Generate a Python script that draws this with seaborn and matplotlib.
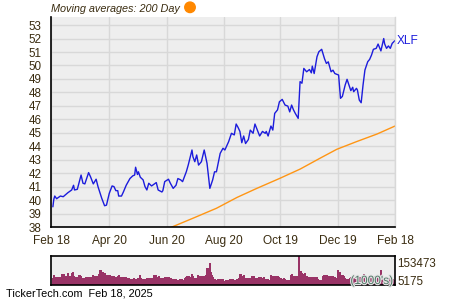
import matplotlib
matplotlib.use("Agg")
import matplotlib.pyplot as plt
import matplotlib.dates as mdates
import matplotlib.patheffects as pe
from matplotlib.patches import Ellipse
import numpy as np
import pandas as pd
import seaborn as sns

# ---- data ----
price_dates = [
    "2024-02-20", "2024-02-21", "2024-02-22", "2024-02-24", "2024-02-28", "2024-03-02",
    "2024-03-07", "2024-03-11", "2024-03-13", "2024-03-14", "2024-03-17", "2024-03-21",
    "2024-03-23", "2024-03-25", "2024-03-29", "2024-03-31", "2024-04-03", "2024-04-06",
    "2024-04-08", "2024-04-12", "2024-04-15", "2024-04-17", "2024-04-20", "2024-04-23",
    "2024-04-25", "2024-04-27", "2024-04-29", "2024-04-30", "2024-05-03", "2024-05-05",
    "2024-05-08", "2024-05-12", "2024-05-15", "2024-05-17", "2024-05-18", "2024-05-20",
    "2024-05-21", "2024-05-23", "2024-05-26", "2024-05-28", "2024-05-30", "2024-06-01",
    "2024-06-04", "2024-06-07", "2024-06-09", "2024-06-11", "2024-06-15", "2024-06-16",
    "2024-06-18", "2024-06-22", "2024-06-24", "2024-06-27", "2024-06-30", "2024-07-02",
    "2024-07-05", "2024-07-07", "2024-07-11", "2024-07-13", "2024-07-17", "2024-07-18",
    "2024-07-20", "2024-07-22", "2024-07-24", "2024-07-27", "2024-07-30", "2024-08-02",
    "2024-08-05", "2024-08-08", "2024-08-10", "2024-08-12", "2024-08-16", "2024-08-19",
    "2024-08-21", "2024-08-25", "2024-08-28", "2024-08-31", "2024-09-02", "2024-09-04",
    "2024-09-06", "2024-09-08", "2024-09-10", "2024-09-12", "2024-09-15", "2024-09-17",
    "2024-09-20", "2024-09-22", "2024-09-24", "2024-09-27", "2024-09-30", "2024-10-03",
    "2024-10-04", "2024-10-06", "2024-10-09", "2024-10-11", "2024-10-13", "2024-10-16",
    "2024-10-18", "2024-10-21", "2024-10-24", "2024-10-27", "2024-10-29", "2024-10-31",
    "2024-11-02", "2024-11-04", "2024-11-07", "2024-11-09", "2024-11-11", "2024-11-13",
    "2024-11-16", "2024-11-19", "2024-11-21", "2024-11-22", "2024-11-24", "2024-11-27",
    "2024-11-29", "2024-12-02", "2024-12-05", "2024-12-07", "2024-12-09", "2024-12-12",
    "2024-12-14", "2024-12-16", "2024-12-20", "2024-12-22", "2024-12-24", "2024-12-27",
    "2024-12-29", "2024-12-31", "2025-01-02", "2025-01-04", "2025-01-05", "2025-01-08",
    "2025-01-09", "2025-01-11", "2025-01-13", "2025-01-15", "2025-01-17", "2025-01-20",
    "2025-01-22", "2025-01-24", "2025-01-26", "2025-01-29", "2025-01-31", "2025-02-03",
    "2025-02-06", "2025-02-07", "2025-02-09", "2025-02-11", "2025-02-13", "2025-02-15",
    "2025-02-18",
]
price_values = [
    39.5, 40.06, 40.3, 40.1, 40.3, 40.25,
    40.55, 40.75, 41.1, 40.75, 40.8, 41.86,
    41.25, 41.2, 42.04, 41.74, 41.2, 41.55,
    41.0, 40.13, 39.58, 39.62, 40.5, 41.05,
    41.0, 40.7, 40.7, 40.3, 40.3, 40.6,
    41.1, 41.6, 41.8, 41.86, 42.44, 41.9,
    42.1, 41.7, 41.5, 41.0, 40.75, 41.25,
    41.05, 41.2, 41.3, 40.75, 40.6, 40.7,
    41.37, 41.55, 41.25, 40.87, 41.1, 41.6,
    41.5, 41.37, 42.11, 42.6, 43.72, 43.22,
    42.85, 43.35, 42.6, 42.85, 43.72, 42.73,
    40.87, 41.5, 42.1, 42.1, 43.47, 43.85,
    43.72, 44.34, 44.96, 44.84, 45.65, 45.4,
    45.1, 44.26, 44.76, 44.2, 44.5, 45.2,
    44.96, 45.65, 45.3, 44.76, 45.1, 44.96,
    45.1, 44.76, 45.5, 45.2, 46.44, 46.7,
    47.3, 47.48, 47.06, 46.98, 46.55, 47.06,
    46.7, 46.43, 46.07, 48.8, 48.68, 49.78,
    49.53, 49.7, 49.45, 49.95, 49.4, 50.65,
    51.02, 51.2, 50.5, 50.15, 50.27, 49.53,
    49.65, 49.4, 49.29, 47.56, 47.7, 48.55,
    48.97, 48.55, 48.13, 48.38, 48.05, 48.3,
    48.18, 47.43, 47.23, 48.55, 49.66, 50.28,
    50.45, 50.77, 51.2, 51.27, 51.59, 51.08,
    52.0, 51.6, 51.27, 51.45, 51.27, 51.64,
    51.85,
]

ma_dates = ["2024-06-17", "2024-06-25", "2024-07-18", "2024-08-12", "2024-09-03",
            "2024-09-24", "2024-10-18", "2024-11-09", "2024-11-30", "2024-12-18",
            "2025-01-08", "2025-01-30", "2025-02-18"]
ma_values = [37.75, 37.98, 38.65, 39.39, 40.2, 40.87, 41.6, 42.3, 43.1, 43.77,
             44.34, 44.91, 45.5]

# daily volume, millions of shares, one row per trading week starting Tue 2024-02-20
vol_weeks_m = [
    [36, 54, 40, 42, 40], [42, 40, 55, 58, 45], [45, 44, 62, 48, 66], [68, 50, 42, 40, 52],
    [55, 50, 38, 36, 35], [40, 42, 38, 44, 41], [55, 45, 44, 46, 48], [60, 82, 78, 70, 62],
    [52, 55, 50, 54, 48], [45, 42, 46, 44, 50], [54, 42, 40, 44, 41], [40, 36, 34, 35, 33],
    [33, 32, 35, 34, 36], [37, 55, 36, 33, 34], [32, 34, 33, 36, 35], [36, 37, 35, 52, 40],
    [50, 38, 36, 37, 35], [40, 42, 38, 41, 39], [31, 30, 33, 32, 29], [27, 28, 26, 30, 29],
    [38, 42, 40, 45, 43], [56, 58, 50, 38, 36], [52, 47, 44, 45, 48], [45, 55, 60, 90, 114],
    [70, 55, 40, 30, 28], [30, 32, 28, 31, 30], [20, 18, 22, 28, 30], [30, 28, 32, 29, 31],
    [30, 35, 55, 58, 50], [52, 38, 34, 36, 35], [38, 48, 50, 46, 36], [35, 36, 40, 42, 38],
    [40, 30, 28, 30, 29], [52, 55, 50, 48, 45], [44, 46, 42, 36, 34], [35, 34, 28, 27, 26],
    [28, 52, 56, 50, 45], [44, 50, 153.473, 72, 66], [60, 58, 62, 45, 44], [44, 42, 40, 41, 43],
    [40, 38, 30, 28, 29], [50, 55, 52, 54, 45], [44, 46, 43, 45, 40], [36, 35, 78, 70, 54],
    [52, 50, 36, 30, 34], [30, 38, 40, 36, 38], [42, 40, 26, 44, 48], [50, 56, 52, 45, 40],
    [42, 40, 38, 36, 48], [40, 38, 44, 42, 78], [45, 40, 38, 36, 38], [36, 34, 32, 30, 28],
    [20],
]
vol_max_label = "153473"
vol_min_label = "5175"

tick_dates = ["2024-02-18", "2024-04-20", "2024-06-20", "2024-08-20", "2024-10-19",
              "2024-12-19", "2025-02-18"]
tick_labels = ["Feb 18", "Apr 20", "Jun 20", "Aug 20", "Oct 19", "Dec 19", "Feb 18"]
minor_tick_dates = ["2024-03-18", "2024-05-19", "2024-07-19", "2024-09-18",
                    "2024-11-17", "2025-01-19"]
y_ticks = list(range(38, 54))

title_text = "Moving averages: 200 Day"
symbol = "XLF"
footer_text = "TickerTech.com  Feb 18, 2025"

# ---- styling ----
sns.set_theme(style="white")
plt.rcParams["font.family"] = ["Liberation Sans", "DejaVu Sans"]

TXT = "#3a2c10"
BG = "#eeeeee"
GRID = "#d8d8d8"
BLUE = "#1c1cdc"
ORANGE = "#ff9514"
VOL = "#993366"

W, H = 450, 300
fig = plt.figure(figsize=(4.5, 3), dpi=100)
fig.patch.set_facecolor("white")

ax = fig.add_axes([51 / W, 1 - 227 / H, 344 / W, 210 / H])
ax.set_facecolor(BG)

df = pd.DataFrame({"date": pd.to_datetime(price_dates), "close": price_values})
ma = pd.DataFrame({"date": pd.to_datetime(ma_dates), "ma": ma_values})
sns.lineplot(data=ma, x="date", y="ma", ax=ax, color=ORANGE, linewidth=1.0)
sns.lineplot(data=df, x="date", y="close", ax=ax, color=BLUE, linewidth=1.0)

x0, x1 = pd.Timestamp(tick_dates[0]), pd.Timestamp(tick_dates[-1])
ax.set_xlim(x0, x1)
ax.set_ylim(38, 53.6)
ax.set_xlabel("")
ax.set_ylabel("")

ax.set_yticks(y_ticks)
ax.set_yticklabels([str(v) for v in y_ticks])
ax.set_yticks(np.arange(38.5, 53.6, 1.0), minor=True)
ax.set_xticks(pd.to_datetime(tick_dates))
ax.set_xticklabels(tick_labels)
ax.set_xticks(pd.to_datetime(minor_tick_dates), minor=True)

ax.grid(True, which="major", color=GRID, linewidth=1.0)
ax.set_axisbelow(True)
ax.tick_params(axis="both", which="both", direction="in", color="black",
               labelcolor=TXT, width=1.0)
ax.tick_params(axis="both", which="major", length=4)
ax.tick_params(axis="both", which="minor", length=2.5)
ax.tick_params(axis="y", which="major", pad=7, labelsize=8.4)
ax.tick_params(axis="x", which="major", pad=6, labelsize=8.6)

ax.spines["top"].set_visible(False)
ax.spines["right"].set_color(GRID)
ax.spines["right"].set_linewidth(1.0)
for s in ["left", "bottom"]:
    ax.spines[s].set_color("black")
    ax.spines[s].set_linewidth(1.2)

# ---- volume panel ----
vax = fig.add_axes([51 / W, 1 - 285 / H, 344 / W, 29 / H])
vax.set_facecolor(BG)
vol_thousands = np.array([v for wk in vol_weeks_m for v in wk]) * 1000.0
vdates = pd.bdate_range("2024-02-20", periods=len(vol_thousands))
vnum = mdates.date2num(vdates)
widths = np.diff(np.append(vnum, vnum[-1] + 1.0))
vax.bar(vnum - widths / 2.0, vol_thousands, width=widths, align="edge",
        color=VOL, edgecolor=VOL, linewidth=0.4, antialiased=False)
vax.set_xlim(mdates.date2num(x0), mdates.date2num(x1))
vax.set_ylim(0, float(vol_max_label))
vax.set_xticks([])
vax.set_yticks([])
for s in vax.spines.values():
    s.set_visible(True)
    s.set_color("black")
    s.set_linewidth(1.2)

# ---- texts ----
fig.text(50.7 / W, 1 - 9.5 / H, title_text, style="italic", fontsize=7.8,
         ha="left", va="center", color=TXT)
fig.add_artist(Ellipse((190 / W, 1 - 7.3 / H), 10.5 / W, 10.5 / H,
                       transform=fig.transFigure, color="#ff8800"))
fig.text(397 / W, 1 - 40.7 / H, symbol, fontsize=8.6, ha="left", va="center", color=BLUE)
fig.text(397 / W, 1 - 264 / H, vol_max_label, fontsize=8.4, ha="left", va="center", color=TXT)
fig.text(397 / W, 1 - 282 / H, vol_min_label, fontsize=8.4, ha="left", va="center", color=TXT)
fig.text(393 / W, 1 - 281 / H, "(1000's)", fontsize=8.6, ha="right", va="center",
         color="#4f7565",
         path_effects=[pe.withStroke(linewidth=1.6, foreground="#e4e4e4")])
fig.text(6 / W, 1 - 294 / H, footer_text, fontsize=7.8, ha="left", va="center", color="black")

fig.savefig("out.png", dpi=100)
